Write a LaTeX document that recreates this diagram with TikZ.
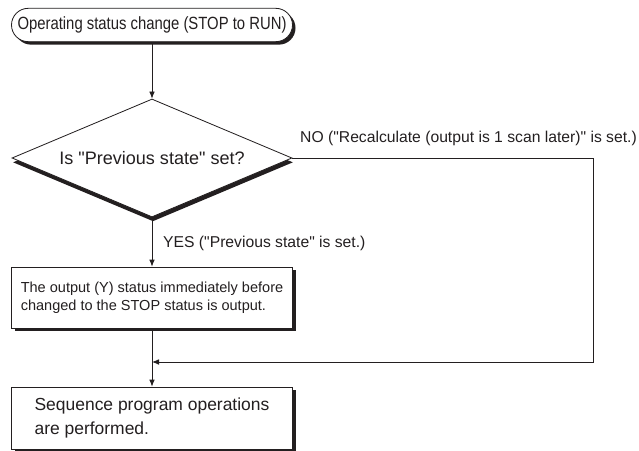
\documentclass[tikz,border=0pt]{standalone}
\usepackage{fontspec}
\setmainfont{Liberation Sans}[Ligatures=TeXOff]
\newfontfamily\narrowsans{Liberation Sans}[FakeStretch=0.84,Ligatures=TeXOff]
\usepackage{tikz}
\usetikzlibrary{arrows.meta,positioning,shapes.geometric,shapes.misc,shadows,calc}
\definecolor{flowInk}{HTML}{231F20}
\tikzset{
  >={Latex[length=2.1mm,width=1.7mm]},
  boxshadow/.style={drop shadow={shadow xshift=0.09cm,shadow yshift=-0.09cm,fill=flowInk,opacity=1}},
  terminal/.style={rounded rectangle,draw=flowInk,line width=0.7pt,fill=white,boxshadow,inner sep=0pt,
    minimum width=8.43cm,minimum height=1.0cm,text=flowInk,font=\narrowsans\fontsize{15.1}{18}\selectfont},
  decision/.style={diamond,aspect=2.37,draw=flowInk,line width=0.7pt,fill=white,inner sep=0pt,
    minimum width=8.4cm,minimum height=3.54cm,text=flowInk,font=\fontsize{15.4}{18}\selectfont,
    drop shadow={shadow xshift=0.03cm,shadow yshift=-0.13cm,fill=flowInk,opacity=1}},
  process/.style={rectangle,draw=flowInk,line width=0.7pt,fill=white,boxshadow,align=left,
    minimum width=8.43cm,text=flowInk},
  flowarrow/.style={->,draw=flowInk,line width=0.7pt},
  branchlabel/.style={anchor=west,inner sep=0pt,text=flowInk,font=\fontsize{13.4}{16}\selectfont},
}
\begin{document}
\begin{tikzpicture}[x=1cm,y=1cm]
  \useasboundingbox (0,0) rectangle (19.17,13.5);

  \node[terminal] (start) at (4.56,12.75) {Operating status change (STOP to RUN)};
  \node[decision] (decide) at (4.56,8.76) {Is "Previous state" set?};
  \node[process, minimum height=1.83cm, font=\fontsize{12.4}{15.4}\selectfont] (holdout) at (4.56,4.575)
    {The output (Y) status immediately before\\changed to the STOP status is output.};
  \node[process, minimum height=1.86cm, font=\fontsize{14.9}{20.5}\selectfont] (seqrun) at (4.56,0.96)
    {Sequence program operations\\are performed.};

  \node[branchlabel] (yeslabel) at (4.89,6.21) {YES ("Previous state" is set.)};
  \node[branchlabel] (nolabel) at (9.0,9.36) {NO ("Recalculate (output is 1 scan later)" is set.)};

  \coordinate (noturn) at (17.79,2.64);

  \draw[flowarrow] (start.south) -- (decide.north);
  \draw[flowarrow] (decide.south) -- (holdout.north);
  \draw[flowarrow] (holdout.south) -- (seqrun.north);
  \draw[flowarrow] (decide.east) -| (noturn) -- (holdout.south |- noturn);
\end{tikzpicture}
\end{document}
